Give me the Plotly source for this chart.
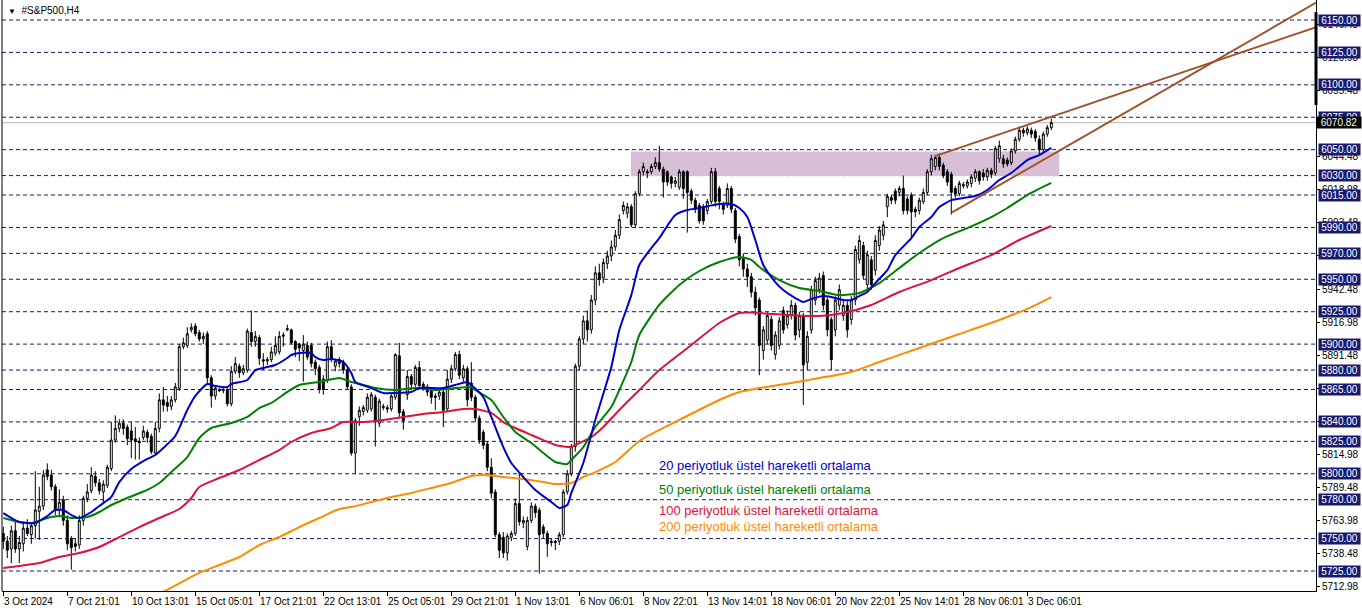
import plotly.graph_objects as go

# ---------------- data ----------------
open_ = [5754,5748,5742,5756,5742,5746,5758,5753,5760,5771,5775,5803,5799,5790,5772,5780,5764,5750,5746,5745,
         5764,5781,5787,5798,5793,5786,5791,5804,5826,5835,5839,5836,5833,5827,5825,5828,5832,5829,5816,5835,
         5857,5855,5852,5857,5866,5898,5899,5911,5914,5909,5904,5908,5874,5860,5865,5864,5865,5854,5879,5883,
         5878,5880,5909,5902,5905,5888,5887,5888,5893,5894,5906,5911,5911,5902,5900,5895,5899,5899,5886,5882,
         5873,5872,5898,5883,5888,5886,5880,5867,5816,5844,5848,5849,5850,5859,5839,5851,5851,5850,5859,5891,
         5848,5861,5875,5869,5882,5869,5867,5864,5860,5860,5863,5850,5873,5881,5892,5874,5881,5870,5859,5843,
         5832,5823,5805,5786,5753,5751,5739,5751,5754,5777,5762,5744,5764,5775,5772,5759,5754,5748,5748,5748,
         5753,5786,5800,5821,5883,5904,5918,5911,5934,5955,5951,5962,5968,5975,5984,6003,6001,6006,5992,6016,
         6033,6033,6033,6037,6040,6035,6033,6029,6024,6021,6033,6033,6018,6011,6007,6006,6003,6010,6033,6020,
         6008,6007,6020,6003,5983,5966,5958,5952,5940,5934,5895,5903,5919,5892,5899,5926,5915,5922,5930,5911,
         5922,5886,5911,5934,5942,5953,5934,5919,5911,5930,5922,5930,5919,5934,5965,5976,5946,5965,5957,5976,
         5984,6006,6013,6018,6017,6020,6012,6015,6004,6003,6010,6017,6033,6037,6044,6038,6033,6031,6020,6016,
         6022,6022,6024,6028,6033,6032,6029,6034,6032,6043,6043,6042,6040,6049,6058,6065,6063,6065,6064,6058,
         6050,6062,6067]
high = [5759,5752,5760,5763,5752,5762,5765,5762,5802,5790,5803,5808,5803,5792,5788,5783,5768,5752,5750,5768,
        5783,5792,5805,5802,5796,5795,5807,5840,5845,5842,5842,5838,5840,5836,5828,5837,5834,5831,5840,5862,
        5867,5860,5860,5870,5900,5905,5913,5916,5916,5911,5909,5910,5876,5868,5866,5867,5866,5883,5890,5885,
        5884,5912,5926,5910,5907,5893,5890,5898,5906,5910,5909,5915,5912,5903,5901,5907,5902,5901,5888,5884,
        5876,5902,5903,5888,5890,5888,5882,5869,5843,5852,5853,5862,5863,5861,5858,5854,5853,5862,5893,5901,
        5850,5880,5877,5884,5887,5871,5869,5866,5862,5865,5865,5880,5884,5894,5895,5884,5883,5886,5861,5845,
        5834,5825,5812,5788,5755,5755,5754,5756,5781,5801,5767,5767,5778,5777,5774,5761,5756,5750,5749,5755,
        5788,5803,5823,5885,5906,5922,5926,5938,5960,5962,5966,5972,5980,5988,6000,6010,6009,6008,6018,6035,
        6040,6035,6039,6044,6053,6037,6034,6030,6029,6035,6034,6034,6020,6013,6009,6008,6012,6036,6036,6022,
        6010,6024,6022,6005,5985,5970,5962,5955,5944,5936,5914,5925,5922,5910,5921,5929,5926,5934,5932,5925,
        5924,5910,5945,5952,5955,5956,5936,5921,5937,5946,5934,5933,5937,5976,5984,5979,5972,5968,5984,5991,
        5995,6016,6015,6020,6022,6030,6014,6017,6006,6013,6020,6035,6046,6046,6047,6040,6035,6033,6022,6026,
        6025,6027,6031,6035,6034,6035,6036,6036,6053,6057,6046,6044,6051,6060,6068,6067,6068,6067,6066,6061,
        6064,6069,6074]
low = [5742,5735,5731,5739,5731,5740,5752,5746,5750,5749,5772,5795,5787,5768,5768,5760,5741,5726,5740,5742,
       5760,5778,5785,5790,5784,5778,5789,5802,5824,5832,5830,5822,5812,5811,5811,5826,5824,5815,5814,5832,
       5848,5848,5849,5855,5864,5896,5897,5909,5906,5902,5900,5870,5851,5857,5863,5862,5852,5852,5877,5874,
       5876,5878,5898,5898,5884,5880,5884,5886,5891,5892,5898,5910,5900,5890,5887,5871,5888,5882,5876,5862,
       5861,5870,5886,5879,5882,5877,5865,5814,5800,5837,5845,5847,5848,5821,5836,5849,5847,5848,5857,5843,
       5834,5857,5866,5867,5865,5864,5860,5854,5849,5857,5836,5848,5870,5879,5873,5871,5852,5856,5840,5823,
       5819,5802,5781,5751,5735,5735,5733,5748,5752,5760,5758,5741,5762,5766,5723,5750,5736,5744,5741,5745,
       5751,5784,5798,5817,5880,5900,5902,5908,5930,5945,5947,5958,5964,5972,5981,6000,5997,5990,5990,6014,
       6030,6028,6031,6035,6033,6013,6022,6020,6021,6019,6012,5986,6008,6001,5993,5992,6000,6008,6006,6004,
       6000,6005,6001,5978,5960,5952,5944,5936,5922,5876,5888,5900,5895,5888,5896,5908,5912,5919,5903,5905,
       5853,5880,5908,5930,5939,5926,5906,5880,5906,5926,5918,5905,5915,5930,5962,5950,5942,5942,5953,5972,
       5980,5998,6008,6008,6014,6000,6000,5981,5998,6000,6008,6015,6030,6034,6034,6028,6022,6000,6013,6014,
       6020,6020,6021,6025,6023,6026,6026,6028,6030,6040,6036,6037,6038,6047,6056,6060,6061,6059,6056,6046,
       6048,6060,6065]
close = [5748,5741,5756,5742,5747,5758,5754,5760,5772,5775,5799,5798,5790,5772,5778,5764,5746,5743,5744,5764,
         5781,5786,5799,5793,5787,5792,5805,5826,5835,5839,5835,5827,5826,5825,5824,5833,5828,5817,5835,5857,
         5853,5852,5857,5867,5898,5901,5908,5913,5908,5904,5906,5874,5860,5866,5864,5865,5854,5879,5885,5878,
         5881,5910,5902,5906,5889,5887,5888,5894,5899,5906,5907,5912,5901,5896,5897,5900,5890,5885,5881,5865,
         5865,5898,5889,5887,5885,5880,5867,5816,5841,5849,5851,5859,5861,5841,5856,5852,5850,5860,5892,5847,
         5841,5875,5869,5882,5868,5867,5863,5859,5859,5863,5849,5873,5881,5892,5876,5881,5857,5859,5843,5826,
         5822,5805,5785,5753,5741,5739,5752,5754,5777,5763,5764,5764,5775,5770,5753,5754,5746,5747,5747,5753,
         5786,5800,5821,5883,5904,5918,5911,5934,5955,5950,5963,5968,5975,5984,5996,6007,6006,5992,6016,6033,
         6037,6032,6037,6040,6035,6025,6025,6024,6026,6033,6020,6017,6011,6004,5995,5995,6010,6033,6010,6010,
         6004,6020,6004,5981,5965,5958,5952,5940,5928,5899,5911,5922,5899,5907,5918,5911,5922,5930,5907,5922,
         5884,5906,5942,5949,5951,5930,5911,5888,5934,5942,5930,5911,5934,5973,5980,5953,5969,5946,5980,5988,
         5992,6014,6011,6011,6020,6003,6003,6002,6002,6011,6017,6033,6043,6044,6037,6030,6025,6017,6016,6024,
         6023,6025,6029,6033,6026,6029,6034,6031,6051,6053,6039,6039,6049,6058,6065,6063,6066,6062,6059,6050,
         6062,6067,6071]
bars = list(range(len(close)))

ema20_bar = [0,4,8,11,13,15,17,19,22,24,27,29,32,36,38,40,43,46,48,51,53,56,57,61,63,66,68,71,72,74,77,78,80,
             82,85,87,88,92,95,98,102,104,110,113,116,117,120,122,125,127,130,133,137,139,141,142,145,148,152,
             154,157,159,162,164,168,171,174,179,182,184,186,188,190,193,195,198,200,202,205,207,210,212,214,
             216,218,221,223,227,229,232,234,237,240,243,246,249,252,256,259,262]
ema20_val = [5769.7,5762.8,5762.0,5767.4,5772.0,5772.0,5768.2,5765.9,5770.5,5775.1,5782.1,5793.6,5803.7,5811.4,
             5814.5,5819.9,5829.1,5849.2,5860.0,5869.2,5867.7,5866.9,5869.2,5872.3,5880.0,5882.3,5883.9,5889.3,
             5891.6,5893.1,5893.1,5890.0,5887.7,5888.5,5886.2,5877.7,5870.8,5866.1,5862.3,5862.3,5863.0,5866.1,
             5866.1,5868.5,5870.8,5868.5,5859.2,5843.8,5820.6,5808.3,5797.5,5787.5,5778.2,5773.6,5775.9,5785.2,
             5808.3,5841.5,5882.3,5910.9,5937.8,5961.0,5974.1,5981.8,5999.6,6003.4,6005.0,6008.1,6008.1,6005.0,
             5998.0,5980.3,5961.0,5947.9,5941.7,5935.5,5932.5,5934.8,5937.1,5936.3,5934.0,5934.0,5937.1,5940.2,
             5947.1,5957.1,5968.7,5981.8,5990.3,5998.0,6005.7,6011.1,6012.7,6014.2,6018.9,6026.6,6032.0,6042.0,
             6045.8,6051.3]
ema50_bar = [0,4,7,11,14,17,21,24,27,31,36,39,42,46,49,52,57,61,64,67,71,74,79,84,87,90,93,98,103,108,113,117,
             118,122,125,128,132,135,138,141,142,145,148,152,154,157,159,164,169,174,179,184,187,189,194,199,204,
             209,214,219,224,229,235,241,247,251,256,262]
ema50_val = [5765.9,5762.8,5762.0,5765.9,5767.4,5765.9,5766.6,5770.5,5775.9,5781.3,5787.5,5792.9,5801.3,5812.9,
             5827.6,5835.3,5839.1,5843.8,5850.7,5854.6,5863.1,5868.5,5870.8,5873.9,5870.8,5868.5,5866.1,5864.6,
             5866.1,5864.6,5866.1,5866.9,5864.6,5856.9,5843.8,5832.2,5823.7,5816.0,5809.1,5807.5,5810.6,5820.6,
             5836.1,5851.5,5864.6,5886.2,5907.0,5930.2,5945.6,5956.4,5963.3,5967.2,5964.9,5959.5,5949.4,5943.3,
             5941.0,5937.8,5939.4,5947.1,5958.7,5970.3,5981.8,5989.5,5998.0,6005.0,6015.0,6024.3]
ema100_bar = [0,4,9,14,19,24,29,34,39,44,47,49,54,59,64,69,72,77,82,85,90,95,100,105,110,115,118,122,125,128,
              132,135,138,142,143,147,150,154,159,164,172,179,184,189,197,204,210,217,224,232,239,247,254,262]
ema100_val = [5727.3,5728.8,5731.1,5735.8,5738.9,5743.5,5751.2,5758.9,5765.9,5772.8,5781.3,5789.8,5796.7,5802.9,
              5810.6,5818.3,5824.5,5831.4,5835.3,5839.9,5839.9,5841.5,5843.8,5846.1,5847.6,5849.9,5849.9,5846.9,
              5839.9,5835.3,5829.9,5826.0,5822.2,5820.6,5822.2,5828.3,5836.1,5849.2,5864.6,5880.0,5899.3,5916.3,
              5924.0,5924.0,5922.4,5921.7,5924.0,5930.2,5940.2,5949.4,5958.7,5968.7,5980.3,5991.1]
ema200_bar = [39,46,49,54,59,64,69,74,79,84,87,92,97,102,107,112,117,120,125,130,135,138,142,145,148,153,159,
              169,179,184,189,197,204,212,219,229,239,249,257,262]
ema200_val = [5707.3,5718.8,5723.5,5729.6,5735.8,5745.0,5751.2,5758.9,5765.9,5772.8,5774.3,5778.2,5782.1,5785.2,
              5789.0,5792.9,5798.3,5799.0,5797.5,5795.9,5793.6,5792.1,5792.9,5797.5,5801.3,5809.1,5825.3,5841.5,
              5856.9,5863.1,5866.1,5870.0,5873.8,5878.5,5886.2,5897.0,5907.8,5918.6,5928.6,5936.3]

tick_bars = [0,16,32,48,64,80,96,112,128,144,160,176,192,208,224,240,256]
tick_labels = ["3 Oct 2024","7 Oct 21:01","10 Oct 13:01","15 Oct 05:01","17 Oct 21:01","22 Oct 13:01",
               "25 Oct 05:01","29 Oct 21:01","1 Nov 13:01","6 Nov 06:01","8 Nov 22:01","13 Nov 14:01",
               "18 Nov 06:01","20 Nov 22:01","25 Nov 14:01","28 Nov 06:01","3 Dec 06:01"]
level_lines = [6150,6125,6100,6075,6050,6030,6015,5990,5970,5950,5925,5900,5880,5865,5840,5825,5800,5780,5750,5725]
scale_ticks = [5712.98,5738.48,5763.98,5789.48,5814.98,5840.48,5865.98,5891.48,5916.98,5942.48,5967.98,
               5993.48,6018.98,6044.48,6069.98,6095.48,6120.98,6146.48]
current_price = 6070.82
zone_bars = [156.9, 264.0]
zone_prices = [6029.6, 6048.6]
upper_trend_bars = [232.9, 328.2]
upper_trend_prices = [6045.0, 6144.5]
lower_trend_bars = [237.2, 328.2]
lower_trend_prices = [6001.6, 6163.4]
legend_texts = ["20 periyotluk üstel hareketli ortalama", "50 periyotluk üstel hareketli ortalama",
                "100 periyotluk üstel hareketli ortalama", "200 periyotluk üstel hareketli ortalama"]
legend_prices = [5806.7, 5788.2, 5772.0, 5759.0]
scale_band = [6156.2, 6084.4]

# ---------------- styles ----------------
FONT = "Liberation Sans"
NAVY = "#191970"
C20, C50, C100, C200 = "#0000CD", "#008000", "#DC143C", "#FF8C00"
TREND = "#A0522D"

fig = go.Figure()
fig.add_trace(go.Candlestick(
    x=bars, open=open_, high=high, low=low, close=close,
    increasing=dict(line=dict(color="black", width=1), fillcolor="white"),
    decreasing=dict(line=dict(color="black", width=1), fillcolor="black"),
    whiskerwidth=0, hoverinfo="skip", showlegend=False))

for xs, ys, col in [(ema200_bar, ema200_val, C200), (ema100_bar, ema100_val, C100),
                    (ema50_bar, ema50_val, C50), (ema20_bar, ema20_val, C20)]:
    fig.add_trace(go.Scatter(x=xs, y=ys, mode="lines",
                             line=dict(color=col, width=2, shape="spline", smoothing=0.6),
                             hoverinfo="skip", showlegend=False))

shapes = []
shapes.append(dict(type="rect", xref="x", yref="y", x0=zone_bars[0], x1=zone_bars[1],
                   y0=zone_prices[0], y1=zone_prices[1], fillcolor="#D8BFD8", line=dict(width=0), layer="below"))
for lv in level_lines:
    shapes.append(dict(type="line", xref="paper", yref="y", x0=0, x1=1, y0=lv, y1=lv,
                       line=dict(color=NAVY, width=1, dash="4px,3px"), layer="below"))
# bid line
shapes.append(dict(type="line", xref="paper", yref="y", x0=0, x1=1, y0=current_price, y1=current_price,
                   line=dict(color="#B8B8B8", width=1), layer="below"))
for bx, py in [(upper_trend_bars, upper_trend_prices), (lower_trend_bars, lower_trend_prices)]:
    shapes.append(dict(type="line", xref="x", yref="y", x0=bx[0], x1=bx[1], y0=py[0], y1=py[1],
                       line=dict(color=TREND, width=2), layer="above"))
shapes.append(dict(type="line", xref="paper", yref="paper", x0=0, x1=0, y0=0, y1=1,
                   line=dict(color="black", width=1)))
shapes.append(dict(type="line", xref="paper", yref="y", x0=1, x1=1, y0=scale_band[0], y1=scale_band[1],
                   line=dict(color="black", width=3)))

annotations = []
for bx, lab in zip(tick_bars, tick_labels):
    annotations.append(dict(x=bx, y=0, xref="x", yref="paper", text=lab, showarrow=False,
                            xanchor="left", yanchor="top", yshift=-3, xshift=-1,
                            font=dict(family=FONT, size=10, color="black")))
for lv in level_lines:
    annotations.append(dict(x=1, y=lv, xref="paper", yref="y", text=f"{lv:.2f}", showarrow=False,
                            xanchor="left", yanchor="middle", xshift=2, bgcolor=NAVY, borderpad=0,
                            width=41, height=11, align="center",
                            font=dict(family=FONT, size=10, color="white")))
annotations.append(dict(x=1, y=current_price, xref="paper", yref="y", text=f"{current_price:.2f}",
                        showarrow=False, xanchor="left", yanchor="middle", xshift=0, bgcolor="black",
                        borderpad=0, width=44, height=11, align="center",
                        font=dict(family=FONT, size=10, color="white")))
for txt, py, col in zip(legend_texts, legend_prices, [C20, C50, C100, C200]):
    annotations.append(dict(x=163.5, y=py, xref="x", yref="y", text=txt, showarrow=False,
                            xanchor="left", yanchor="middle",
                            font=dict(family=FONT, size=13, color=col)))
annotations.append(dict(x=0, y=1, xref="paper", yref="paper",
                        text="<span style='font-size:8px'>▼</span>  #S&P500,H4",
                        showarrow=False, xanchor="left", yanchor="top", xshift=4, yshift=-3,
                        font=dict(family=FONT, size=10, color="black")))

fig.update_layout(
    width=1362, height=611,
    margin=dict(l=2, r=46, t=0, b=20),
    paper_bgcolor="white", plot_bgcolor="white",
    shapes=shapes, annotations=annotations,
    showlegend=False,
    xaxis=dict(range=[-0.325, 328.175], rangeslider=dict(visible=False), showgrid=False, zeroline=False,
               showline=True, linecolor="black", linewidth=1, ticks="outside", ticklen=4, tickcolor="black",
               tickvals=tick_bars, showticklabels=False, fixedrange=True),
    yaxis=dict(range=[5709.57, 6165.43], side="right", showgrid=False, zeroline=False,
               showline=True, linecolor="black", linewidth=1, ticks="outside", ticklen=3, tickcolor="black",
               tickvals=scale_ticks, ticktext=[f"{v:.2f}" for v in scale_ticks],
               tickfont=dict(family=FONT, size=10, color="black"), fixedrange=True),
)
fig.write_html("out.html", config={"displayModeBar": False, "staticPlot": True},
               post_script="document.body.style.margin='0px';document.body.style.overflow='hidden';")
